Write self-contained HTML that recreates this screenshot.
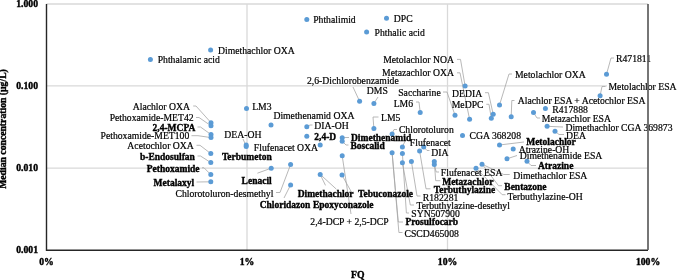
<!DOCTYPE html>
<html><head><meta charset="utf-8"><style>
html,body{margin:0;padding:0;background:#fff;width:677px;height:280px;overflow:hidden}
svg{display:block;font-family:"Liberation Serif",serif;will-change:transform}
</style></head><body>
<svg width="677" height="280" viewBox="0 0 677 280">
<rect width="677" height="280" fill="#fff"/>
<g stroke="#D9D9D9" stroke-width="1.3"><line x1="46.5" y1="4.0" x2="648" y2="4.0"/><line x1="46.5" y1="85.9" x2="648" y2="85.9"/><line x1="46.5" y1="168.1" x2="648" y2="168.1"/><line x1="247.0" y1="4" x2="247.0" y2="250"/><line x1="447.5" y1="4" x2="447.5" y2="250"/></g>
<rect x="607" y="82" width="41" height="8.5" fill="#fff"/>
<g fill="none" stroke="#A6A6A6" stroke-width="0.8"><polyline points="457,59.4 460.5,59.4 465.1,85.9"/><polyline points="457,72.8 460,72.8 469.6,119.3"/><polyline points="443,92 447,92 455,115.2"/><polyline points="416,102 419,102 420.2,112.5"/><polyline points="485,92.7 488.4,92.7 493.2,114.3"/><polyline points="486.3,104.3 489,104.3 491.3,118.3"/><polyline points="512,74 509,74 499.5,105"/><polyline points="514.5,100.5 511.8,100.5 511.2,116.8"/><polyline points="606.5,74.3 611,58 614,58"/><polyline points="605.5,86.5 602,86.5 600.1,95.7"/><polyline points="533.5,112.6 537,118 540,118"/><polyline points="547.1,126.3 563,127"/><polyline points="555,131.2 559,134.5 564,134.5"/><polyline points="499.5,145 524,142"/><polyline points="507,158.8 517,155.5"/><polyline points="527,161.2 531,165.5 536,165.5"/><polyline points="482.3,164.3 503.7,174.5 509.7,174.5"/><polyline points="434.3,164.5 436.2,172 439,172"/><polyline points="434.3,161.4 435.7,180.7 440.3,180.7"/><polyline points="482.3,164.3 498.5,185.7 502,185.7"/><polyline points="476,168.2 502.2,194.7 505.5,194.7"/><polyline points="419.6,151 426,188.8 430.5,188.8"/><polyline points="411.4,161.4 417,196 420.5,196"/><polyline points="402.4,162.8 410.3,205 414,205"/><polyline points="402.4,153.6 406.4,213 409,213"/><polyline points="392.1,152.7 398.3,222 403,222"/><polyline points="392.1,152.7 398.9,232.5 402.5,232.5"/><polyline points="392.1,133.9 394,129.5 397,129.5"/><polyline points="402.4,146.9 405.5,140 408,140"/><polyline points="423.7,147 427,150.5 429.5,150.5"/><polyline points="373.9,128.6 373,117 378.5,117"/><polyline points="353,87 359.6,101.3"/><polyline points="378,97 373.9,103.4"/><polyline points="342.2,137.8 346,137.5 349,137.5"/><polyline points="342.2,141.2 346,145 348.5,145"/><polyline points="342.2,155.8 351,214"/><polyline points="342,175.2 351.3,191.8"/><polyline points="320.2,174.4 336.3,189.1"/><polyline points="320.2,174.4 325.5,185.4"/><polyline points="290.6,164.5 280,192.5 276,192.5"/><polyline points="290.6,184.9 284,198"/><polyline points="271.2,168.2 257.4,173.2"/><polyline points="246.3,146.2 243,139"/><polyline points="306.8,126.8 310,125 312.5,125"/><polyline points="193.2,106 196,106 211,122.7"/><polyline points="196,117.5 199,117.5 211,125.8"/><polyline points="197.5,127 200.5,127 211,134.5"/><polyline points="191.5,135.7 198,135.7 211,137.6"/><polyline points="196.5,145.3 200,145.3 210.8,153.6"/><polyline points="197.5,156 200.5,156 210.8,162.6"/><polyline points="202,167.8 204,167.8 210.8,174.6"/><polyline points="196.5,182 210.8,181.8"/></g>
<path d="M46.5,4 V250.2 H648" fill="none" stroke="#262626" stroke-width="1.4"/>
<g fill="#5B9BD5"><circle cx="150.4" cy="59.6" r="2.5"/><circle cx="210.6" cy="49.9" r="2.5"/><circle cx="306.8" cy="19.6" r="2.5"/><circle cx="386.5" cy="18.3" r="2.5"/><circle cx="366.6" cy="32.0" r="2.5"/><circle cx="465.1" cy="85.9" r="2.5"/><circle cx="469.6" cy="119.3" r="2.5"/><circle cx="455.0" cy="115.2" r="2.5"/><circle cx="420.2" cy="112.5" r="2.5"/><circle cx="493.2" cy="114.3" r="2.5"/><circle cx="491.3" cy="118.3" r="2.5"/><circle cx="499.5" cy="105.0" r="2.5"/><circle cx="511.2" cy="116.8" r="2.5"/><circle cx="606.5" cy="74.3" r="2.5"/><circle cx="600.1" cy="95.7" r="2.5"/><circle cx="545.4" cy="108.5" r="2.5"/><circle cx="533.5" cy="112.6" r="2.5"/><circle cx="547.1" cy="126.3" r="2.5"/><circle cx="555.0" cy="131.2" r="2.5"/><circle cx="462.5" cy="135.5" r="2.5"/><circle cx="499.5" cy="145.0" r="2.5"/><circle cx="513.2" cy="149.0" r="2.5"/><circle cx="507.0" cy="158.8" r="2.5"/><circle cx="527.0" cy="161.2" r="2.5"/><circle cx="482.0" cy="164.2" r="2.5"/><circle cx="476.0" cy="168.2" r="2.5"/><circle cx="434.3" cy="161.4" r="2.5"/><circle cx="434.3" cy="164.5" r="2.5"/><circle cx="419.6" cy="151.0" r="2.5"/><circle cx="411.4" cy="161.4" r="2.5"/><circle cx="402.4" cy="162.8" r="2.5"/><circle cx="402.4" cy="153.6" r="2.5"/><circle cx="402.4" cy="146.9" r="2.5"/><circle cx="392.1" cy="152.7" r="2.5"/><circle cx="392.1" cy="133.9" r="2.5"/><circle cx="423.7" cy="147.0" r="2.5"/><circle cx="373.9" cy="128.6" r="2.5"/><circle cx="359.6" cy="101.3" r="2.5"/><circle cx="373.9" cy="103.4" r="2.5"/><circle cx="342.2" cy="137.8" r="2.5"/><circle cx="342.2" cy="141.2" r="2.5"/><circle cx="342.2" cy="155.8" r="2.5"/><circle cx="342.0" cy="175.0" r="2.5"/><circle cx="320.2" cy="174.4" r="2.5"/><circle cx="290.6" cy="164.5" r="2.5"/><circle cx="290.6" cy="184.9" r="2.5"/><circle cx="271.2" cy="168.2" r="2.5"/><circle cx="246.2" cy="146.4" r="2.5"/><circle cx="246.2" cy="145.0" r="2.5"/><circle cx="246.5" cy="108.6" r="2.5"/><circle cx="271.0" cy="125.1" r="2.5"/><circle cx="306.8" cy="126.8" r="2.5"/><circle cx="306.8" cy="136.3" r="2.5"/><circle cx="320.2" cy="145.0" r="2.5"/><circle cx="211.0" cy="122.7" r="2.5"/><circle cx="211.0" cy="125.8" r="2.5"/><circle cx="211.0" cy="134.5" r="2.5"/><circle cx="211.0" cy="137.6" r="2.5"/><circle cx="210.8" cy="153.6" r="2.5"/><circle cx="210.8" cy="162.6" r="2.5"/><circle cx="210.8" cy="174.6" r="2.5"/><circle cx="210.8" cy="181.8" r="2.5"/></g>
<g font-family="Liberation Serif" font-size="9.7" fill="#000" stroke="#000" stroke-width="0.2"><text x="157.7" y="63.3">Phthalamic acid</text><text x="218" y="53.6">Dimethachlor OXA</text><text x="313.2" y="23.3">Phthalimid</text><text x="393.8" y="22.0">DPC</text><text x="374.5" y="35.7">Phthalic acid</text><text x="453.9" y="62.9" text-anchor="end">Metolachlor NOA</text><text x="453.9" y="76.2" text-anchor="end">Metazachlor OXA</text><text x="440.7" y="95.8" text-anchor="end">Saccharine</text><text x="413" y="106.6" text-anchor="end">LM6</text><text x="482.2" y="96.9" text-anchor="end">DEDIA</text><text x="483.5" y="108.3" text-anchor="end">MeDPC</text><text x="515" y="78.0">Metolachlor OXA</text><text x="517.8" y="104.1">Alachlor ESA + Acetochlor ESA</text><text x="616" y="61.7">R471811</text><text x="608.5" y="90.2">Metolachlor ESA</text><text x="552.3" y="112.5">R417888</text><text x="541.8" y="121.6">Metazachlor ESA</text><text x="565.4" y="130.8">Dimethachlor CGA 369873</text><text x="566.1" y="138.6">DEA</text><text x="469.6" y="139.2">CGA 368208</text><text x="526.2" y="145.0" font-weight="bold" font-size="9.5" stroke-width="0.35">Metolachlor</text><text x="518.8" y="153.0">Atrazine-OH</text><text x="519.7" y="158.5">Dimethenamide ESA</text><text x="538" y="169.1" font-weight="bold" font-size="9.5" stroke-width="0.35">Atrazine</text><text x="513.3" y="178.7">Dimethachlor ESA</text><text x="440.8" y="175.8">Flufenacet ESA</text><text x="442.2" y="184.8" font-weight="bold" font-size="9.5" stroke-width="0.35">Metazachlor</text><text x="504.3" y="190.0" font-weight="bold" font-size="9.5" stroke-width="0.35">Bentazone</text><text x="495.2" y="192.8" text-anchor="end" font-weight="bold" font-size="9.5" stroke-width="0.35">Terbuthylazine</text><text x="507.5" y="199.6">Terbuthylazine-OH</text><text x="422.8" y="200.7">R182281</text><text x="416.4" y="208.7">Terbuthylazine-desethyl</text><text x="411.3" y="217.2">SYN507900</text><text x="405.5" y="225.4" font-weight="bold" font-size="9.5" stroke-width="0.35">Prosulfocarb</text><text x="404.5" y="237.0">CSCD465008</text><text x="398.9" y="133.3">Chlorotoluron</text><text x="409.8" y="145.7">Flufenacet</text><text x="431.25" y="155.5">DIA</text><text x="381" y="120.7">LM5</text><text x="307" y="84.2">2,6-Dichlorobenzamide</text><text x="366.8" y="94.1">DMS</text><text x="351" y="141.2" font-weight="bold" font-size="9.5" stroke-width="0.35">Dimethenamid</text><text x="350.4" y="148.7" font-weight="bold" font-size="9.5" stroke-width="0.35">Boscalid</text><text x="310.3" y="224.8">2,4-DCP + 2,5-DCP</text><text x="358.0" y="196.7" font-weight="bold" font-size="9.5" stroke-width="0.35">Tebuconazole</text><text x="353.6" y="196.5" text-anchor="end" font-weight="bold" font-size="9.5" stroke-width="0.35">Dimethachlor</text><text x="312.9" y="207.7" font-weight="bold" font-size="9.5" stroke-width="0.35">Epoxyconazole</text><text x="273.4" y="197.1" text-anchor="end">Chlorotoluron-desmethyl</text><text x="259.7" y="208.2" font-weight="bold" font-size="9.5" stroke-width="0.35">Chloridazon</text><text x="271.7" y="184.4" text-anchor="end" font-weight="bold" font-size="9.5" stroke-width="0.35">Lenacil</text><text x="221.9" y="160.4" font-weight="bold" font-size="9.5" stroke-width="0.35">Terbumeton</text><text x="224.3" y="137.6">DEA-OH</text><text x="252.2" y="109.5">LM3</text><text x="273.4" y="119.3">Dimethenamid OXA</text><text x="314.3" y="129.2">DIA-OH</text><text x="314.3" y="140.3" font-weight="bold" font-size="9.5" stroke-width="0.35">2,4-D</text><text x="253.8" y="150.8">Flufenacet OXA</text><text x="190" y="109.9" text-anchor="end">Alachlor OXA</text><text x="193.6" y="121.4" text-anchor="end">Pethoxamide-MET42</text><text x="195.4" y="131.3" text-anchor="end" font-weight="bold" font-size="9.5" stroke-width="0.35">2,4-MCPA</text><text x="189.3" y="139.4" text-anchor="end">Pethoxamide-MET100</text><text x="193.8" y="149.0" text-anchor="end">Acetochlor OXA</text><text x="194.9" y="159.7" text-anchor="end" font-weight="bold" font-size="9.5" stroke-width="0.35">b-Endosulfan</text><text x="199.6" y="171.5" text-anchor="end" font-weight="bold" font-size="9.5" stroke-width="0.35">Pethoxamide</text><text x="194.2" y="186.2" text-anchor="end" font-weight="bold" font-size="9.5" stroke-width="0.35">Metalaxyl</text></g>
<g font-family="Liberation Serif" font-size="9.7" font-weight="bold" fill="#000" stroke="#000" stroke-width="0.4"><text x="38" y="7.2" text-anchor="end">1.000</text><text x="38" y="89.1" text-anchor="end">0.100</text><text x="38" y="171.3" text-anchor="end">0.010</text><text x="38" y="253.2" text-anchor="end">0.001</text><text x="46.5" y="265" text-anchor="middle">0%</text><text x="247.0" y="265" text-anchor="middle">1%</text><text x="447.5" y="265" text-anchor="middle">10%</text><text x="648.0" y="265" text-anchor="middle">100%</text><text x="357.8" y="278.1" text-anchor="middle">FQ</text><text transform="translate(5.9,129.0) rotate(-90)" text-anchor="middle">Median concentration (µg/L)</text></g>
<line x1="648" y1="4" x2="648" y2="250" stroke="#5e5e5e" stroke-width="1.7"/>
</svg>
</body></html>
